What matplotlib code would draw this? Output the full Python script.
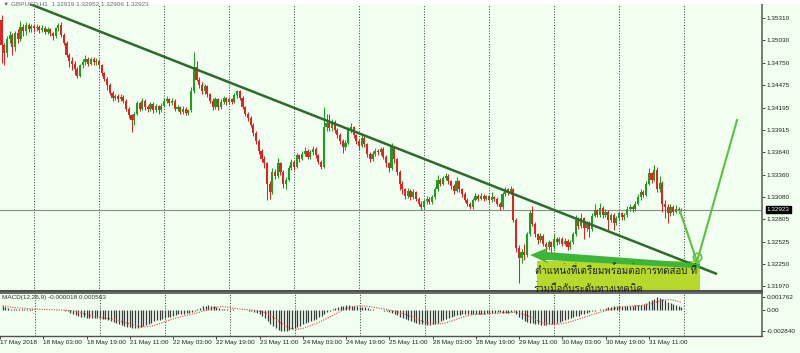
import matplotlib
matplotlib.use("Agg")
import matplotlib.pyplot as plt
import numpy as np
import pandas as pd
from matplotlib import font_manager
from matplotlib.ft2font import FT2Font
from matplotlib.patches import Rectangle, Polygon

# ---------------- data (prices in pips above 1.3000) ----------------
open_pips = [
    529, 497, 488, 505, 510, 495, 512, 505, 520, 515,
    522, 517, 521, 518, 520, 516, 519, 514, 517, 512,
    508, 518, 522, 510, 500, 485, 478, 474, 468, 459,
    472, 476, 480, 474, 480, 476, 478, 472, 462, 455,
    448, 438, 431, 434, 430, 433, 428, 418, 410, 404,
    412, 425, 418, 428, 420, 418, 424, 417, 421, 416,
    422, 428, 430, 425, 428, 418, 420, 414, 418, 413,
    416, 440, 470, 454, 448, 440, 446, 436, 428, 420,
    430, 420, 427, 431, 426, 430, 427, 435, 440, 432,
    420, 412, 406, 398, 388, 378, 366, 356, 350, 325,
    315, 340, 335, 350, 340, 325, 330, 345, 352, 346,
    360, 356, 362, 366, 358, 364, 368, 360, 352, 346,
    395, 400, 394, 402, 392, 385, 378, 370, 376, 392,
    395, 385, 378, 372, 382, 374, 362, 356, 362, 366,
    364, 368, 358, 350, 344, 370, 355, 340, 325, 318,
    310, 316, 308, 314, 306, 300, 296, 303, 306, 302,
    308, 318, 330, 325, 332, 335, 328, 322, 316, 328,
    318, 312, 305, 300, 296, 305, 310, 306, 310, 306,
    309, 304, 308, 306, 300, 296, 312, 318, 314, 318,
    280, 245, 232, 240, 236, 262, 288, 275, 262, 255,
    260, 250, 246, 252, 246, 256, 252, 256, 250, 254,
    246, 252, 262, 280, 272, 282, 270, 276, 268, 285,
    292, 286, 295, 286, 290, 280, 286, 276, 282, 288,
    283, 286, 294, 296, 293, 300, 308, 314, 311, 325,
    338, 330, 342, 318, 326, 300, 296, 288, 296, 290,
    294, 291.9,
]
high_pips = [
    535, 500, 508, 515, 512, 515, 517, 527, 524, 526,
    525, 524, 523, 523, 522, 522, 521, 520, 519, 514,
    520, 525, 526, 512, 502, 488, 482, 477, 470, 474,
    480, 485, 482, 483, 482, 481, 480, 474, 464, 458,
    450, 440, 437, 436, 436, 435, 430, 420, 412, 414,
    428, 427, 432, 430, 423, 426, 426, 424, 423, 425,
    431, 434, 432, 431, 430, 423, 422, 421, 420, 418,
    445, 489, 478, 457, 451, 449, 448, 438, 431, 433,
    432, 430, 434, 433, 433, 432, 438, 442, 441, 434,
    422, 414, 409, 400, 390, 380, 368, 359, 352, 328,
    345, 343, 357, 352, 342, 333, 348, 356, 354, 363,
    362, 366, 371, 368, 367, 372, 370, 362, 354, 420,
    412, 412, 405, 404, 394, 388, 380, 379, 395, 400,
    397, 387, 380, 386, 384, 376, 364, 365, 369, 368,
    371, 370, 360, 352, 375, 372, 357, 342, 328, 320,
    319, 318, 318, 316, 308, 303, 306, 309, 308, 311,
    321, 336, 332, 335, 338, 337, 330, 324, 333, 330,
    320, 314, 307, 302, 307, 313, 312, 313, 312, 311,
    311, 314, 310, 308, 302, 314, 321, 320, 322, 320,
    282, 248, 244, 250, 265, 292, 297, 277, 264, 263,
    262, 252, 255, 254, 262, 258, 259, 258, 257, 256,
    255, 265, 286, 283, 289, 284, 279, 278, 288, 300,
    294, 301, 297, 293, 292, 289, 288, 285, 291, 290,
    289, 297, 300, 298, 303, 312, 318, 317, 328, 345,
    340, 348, 346, 334, 328, 305, 299, 300, 298, 298,
    296, 295.2,
]
low_pips = [
    475, 473, 482, 500, 485, 490, 500, 502, 508, 510,
    513, 514, 514, 515, 512, 513, 511, 511, 509, 504,
    506, 515, 507, 497, 482, 470, 466, 460, 456, 457,
    469, 473, 471, 472, 473, 473, 469, 459, 452, 441,
    435, 428, 429, 427, 428, 425, 415, 406, 389, 398,
    410, 415, 416, 417, 414, 415, 413, 414, 412, 414,
    420, 425, 422, 423, 415, 415, 411, 412, 410, 410,
    414, 438, 452, 444, 436, 437, 433, 425, 416, 418,
    416, 418, 424, 423, 424, 424, 425, 432, 429, 418,
    409, 403, 395, 384, 374, 362, 352, 345, 305, 306,
    312, 331, 332, 336, 320, 318, 328, 342, 342, 344,
    352, 354, 359, 355, 355, 361, 357, 349, 343, 344,
    390, 390, 390, 388, 382, 374, 363, 367, 374, 388,
    382, 374, 367, 370, 371, 358, 352, 353, 359, 360,
    361, 355, 346, 340, 342, 350, 336, 317, 312, 306,
    307, 305, 306, 303, 297, 292, 294, 300, 299, 300,
    306, 316, 322, 323, 329, 325, 318, 312, 314, 315,
    308, 302, 297, 293, 294, 303, 303, 304, 303, 304,
    301, 302, 303, 297, 292, 294, 310, 311, 312, 277,
    240, 201, 226, 230, 234, 260, 272, 258, 250, 252,
    247, 240, 243, 239, 244, 249, 250, 247, 248, 242,
    244, 250, 260, 268, 270, 256, 266, 258, 266, 283,
    283, 284, 282, 283, 267, 277, 267, 273, 280, 280,
    280, 284, 291, 290, 291, 298, 305, 308, 309, 323,
    326, 328, 315, 314, 290, 282, 276, 285, 286, 288,
    289, 290.6,
]
close_pips = [
    497, 488, 505, 510, 495, 512, 505, 520, 515, 522,
    517, 521, 518, 520, 516, 519, 514, 517, 512, 508,
    518, 522, 510, 500, 485, 478, 474, 468, 459, 472,
    476, 480, 474, 480, 476, 478, 472, 462, 455, 448,
    438, 431, 434, 430, 433, 428, 418, 410, 404, 412,
    425, 418, 428, 420, 418, 424, 417, 421, 416, 422,
    428, 430, 425, 428, 418, 420, 414, 418, 413, 416,
    440, 470, 454, 448, 440, 446, 436, 428, 420, 430,
    420, 427, 431, 426, 430, 427, 435, 440, 432, 420,
    412, 406, 398, 388, 378, 366, 356, 350, 325, 315,
    340, 335, 350, 340, 325, 330, 345, 352, 346, 360,
    356, 362, 366, 358, 364, 368, 360, 352, 346, 395,
    400, 394, 402, 392, 385, 378, 370, 376, 392, 395,
    385, 378, 372, 382, 374, 362, 356, 362, 366, 364,
    368, 358, 350, 344, 370, 355, 340, 325, 318, 310,
    316, 308, 314, 306, 300, 296, 303, 306, 302, 308,
    318, 330, 325, 332, 335, 328, 322, 316, 328, 318,
    312, 305, 300, 296, 305, 310, 306, 310, 306, 309,
    304, 308, 306, 300, 296, 312, 318, 314, 318, 280,
    245, 232, 240, 236, 262, 288, 275, 262, 255, 260,
    250, 246, 252, 246, 256, 252, 256, 250, 254, 246,
    252, 262, 280, 272, 282, 270, 276, 268, 285, 292,
    286, 295, 286, 290, 280, 286, 276, 282, 288, 283,
    286, 294, 296, 293, 300, 308, 314, 311, 325, 338,
    330, 342, 318, 326, 300, 296, 288, 296, 290, 294,
    291.9, 292.3,
]
# MACD main line (units of 1e-5)
macd_e5 = [
    60, 45, 25, 20, 18, 15, 15, 12, 12, 10,
    10, 8, 5, 5, 3, 3, 2, 2, 0, 0,
    -2, -3, -5, -10, -20, -35, -50, -65, -80, -95,
    -100, -105, -108, -110, -110, -112, -115, -118, -125, -135,
    -150, -165, -180, -195, -205, -215, -225, -235, -245, -245,
    -240, -230, -215, -200, -185, -170, -155, -140, -130, -120,
    -110, -100, -90, -80, -70, -60, -55, -50, -45, -40,
    -30, -15, 10, 30, 50, 60, 65, 60, 50, 40,
    30, 20, 15, 10, 10, 8, 5, 5, 5, 0,
    -5, -10, -15, -25, -40, -55, -75, -110, -150, -190,
    -220, -245, -265, -278, -284, -280, -270, -255, -240, -225,
    -210, -195, -180, -165, -150, -135, -120, -100, -80, -50,
    -30, -10, 10, 30, 45, 55, 60, 65, 65, 60,
    55, 50, 45, 40, 35, 30, 20, 10, 5, 0,
    -5, -10, -20, -30, -45, -55, -70, -90, -110, -125,
    -140, -155, -165, -175, -185, -190, -195, -200, -200, -195,
    -185, -170, -150, -130, -120, -105, -90, -80, -70, -65,
    -60, -55, -50, -50, -55, -60, -60, -55, -50, -45,
    -40, -35, -35, -30, -30, -35, -40, -35, -25, -20,
    -50, -90, -125, -150, -165, -175, -180, -190, -195, -200,
    -200, -198, -195, -190, -185, -175, -165, -150, -135, -120,
    -105, -95, -85, -75, -60, -50, -40, -30, -20, -10,
    -5, 10, 20, 30, 40, 45, 50, 50, 55, 55,
    55, 60, 60, 60, 65, 65, 70, 85, 100, 120,
    140, 155, 176, 165, 150, 130, 110, 95, 80, 65,
    50, 40,
]

price_levels = [1.35310, 1.35030, 1.34750, 1.34475, 1.34195, 1.33915, 1.33640,
                1.33360, 1.33080, 1.32805, 1.32525, 1.32250, 1.31970]
macd_levels = [0.001762, 0.0, -0.002840]
macd_level_labels = ["0.001762", "0.00", "-0.002840"]
date_labels = ["17 May 2018", "18 May 03:00", "18 May 19:00", "21 May 11:00",
               "22 May 03:00", "22 May 19:00", "23 May 11:00", "24 May 03:00",
               "24 May 19:00", "25 May 11:00", "28 May 03:00", "28 May 19:00",
               "29 May 11:00", "30 May 03:00", "30 May 19:00", "31 May 11:00"]
last_price = 1.32923
title_text = "\u25bc GBPUSD,H1  1.32919 1.32952 1.32906 1.32923"
macd_text = "MACD(12,26,9) -0.000018 0.000563"
note_line1 = "ตำแหน่งที่เตรียมพร้อมต่อการทดสอบ ที่"
note_line2 = "ร่วมมือกับระดับทางเทคนิค"

# ---------------- derived ----------------
o = 1.3 + np.array(open_pips) / 1e4
h = 1.3 + np.array(high_pips) / 1e4
l = 1.3 + np.array(low_pips) / 1e4
c = 1.3 + np.array(close_pips) / 1e4
n = len(c)
x = np.arange(n)

macd = np.array(macd_e5) / 1e5
# MT4 signal line: 9-period simple average of the MACD main line
signal = pd.Series(macd).rolling(9, min_periods=1).mean().values


def thai_family():
    seen = set()
    for fe in font_manager.fontManager.ttflist:
        if fe.fname in seen:
            continue
        seen.add(fe.fname)
        try:
            cm = FT2Font(fe.fname).get_charmap()
        except Exception:
            continue
        if 0x0E01 in cm and 0x0E33 in cm and 0x0E48 in cm:
            return fe.name
    return None


thai = thai_family()
thai_fam = [thai, "DejaVu Sans"] if thai else ["DejaVu Sans"]
small_fam = ["Liberation Sans", "DejaVu Sans"]

BG = "#F0FFF0"
UP = "#1E9E1E"
DN = "#E02424"
FS = 4.6

fig = plt.figure(figsize=(8, 3.53), dpi=100, facecolor=BG)
# white strip at the very top (window caption area)
fig.patches.append(Rectangle((0, 1 - 4 / 353), 1, 4 / 353, transform=fig.transFigure,
                             facecolor="white", edgecolor="none", zorder=0))
ax = fig.add_axes([0, 1 - 291 / 353, 762 / 800, 287 / 353], facecolor=BG)
ax2 = fig.add_axes([0, 1 - 336 / 353, 762 / 800, 43 / 353], facecolor=BG)

xlim = (-0.554, 280.8)
ax.set_xlim(*xlim)
ax2.set_xlim(*xlim)
ax.set_ylim(1.31914, 1.35484)
ax2.set_ylim(-0.00352, 0.00230)

grid_pos = list(range(12, 260, 24))
for a in (ax, ax2):
    for g in grid_pos:
        a.axvline(g, color="#4A4A4A", lw=0.75, ls=(0, (1, 1.6)), zorder=0.5)

# note rectangle
ax.add_patch(Rectangle((197.7, 1.3170), 60.2, 1.32287 - 1.3170,
                       facecolor="#B6D92B", edgecolor="none", zorder=1))

# current price line
ax.axhline(last_price, color="#8C8C8C", lw=0.8, zorder=1.5)

# candles
up = c >= o
col = np.where(up, UP, DN)
ax.vlines(x, l, h, colors=col, lw=0.75, zorder=2)
body = np.where(np.abs(c - o) < 0.00004, 0.00004, c - o)
ax.bar(x, body, bottom=o, width=0.78, color=col, linewidth=0, zorder=2.1)

# trend line
ax.plot([10.5, 264.2], [1.35484, 1.32125], color="#2E6A2E", lw=1.8,
        solid_capstyle="butt", zorder=3)

# projected path
ax.plot([250.5, 256.8, 271.6], [1.3291, 1.3228, 1.3404], color="#5EC043",
        lw=1.5, zorder=3.2)
ax.plot([256.8], [1.3234], marker="o", ms=6, mfc="none", mec="#5EC043",
        mew=1.2, zorder=3.3)

# arrow
arrow = [(195.2, 1.32362), (202.0, 1.32455), (200.8, 1.32400), (257.9, 1.32255),
         (257.9, 1.32195), (200.8, 1.32300), (202.0, 1.32255)]
ax.add_patch(Polygon(arrow, closed=True, facecolor="#3DB53A", edgecolor="none",
                     zorder=4))

ax.text(197.0, 1.32175, note_line1, family=thai_fam, fontsize=7.0,
        color="#1E1E1E", va="center", ha="left", zorder=5)
ax.text(196.3, 1.31950, note_line2, family=thai_fam, fontsize=7.0,
        color="#1E1E1E", va="center", ha="left", zorder=6, clip_on=False)

# price axis
for a in (ax, ax2):
    a.yaxis.tick_right()
    for sp in ("left", "top"):
        a.spines[sp].set_visible(False)
    a.spines["right"].set_color("#7A7A7A")
    a.spines["right"].set_linewidth(1.4)
ax.spines["bottom"].set_color("#505050")
ax.spines["bottom"].set_linewidth(1.5)
ax2.spines["bottom"].set_color("#505050")
ax2.spines["bottom"].set_linewidth(1.0)
ax2.spines["top"].set_visible(True)
ax2.spines["top"].set_color("#505050")
ax2.spines["top"].set_linewidth(1.2)

ax.set_yticks(price_levels)
ax.set_yticklabels([f"{v:.5f}" for v in price_levels])
ax.tick_params(axis="y", direction="out", length=2, width=0.6, pad=1.5,
               labelsize=FS, colors="#222222")
for t in ax.get_yticklabels():
    t.set_family(small_fam)
ax.set_xticks([])

ax2.set_yticks(macd_levels)
ax2.set_yticklabels(macd_level_labels)
ax2.tick_params(axis="y", direction="out", length=2, width=0.6, pad=1.5,
                labelsize=FS, colors="#222222")
for t in ax2.get_yticklabels():
    t.set_family(small_fam)

date_pos = list(range(-1, 16 * len(date_labels) - 1, 16))
ax2.set_xticks(date_pos)
ax2.set_xticklabels(date_labels, ha="left")
ax2.tick_params(axis="x", direction="out", length=2, width=0.6, pad=1.2,
                labelsize=FS, colors="#222222")
for t in ax2.get_xticklabels():
    t.set_family(small_fam)

# last price tag
ax.annotate(f"{last_price:.5f}", xy=(1.0, last_price),
            xycoords=("axes fraction", "data"), xytext=(3.5, 0),
            textcoords="offset points", va="center", ha="left", fontsize=FS,
            family=small_fam, color="white", zorder=10, annotation_clip=False,
            bbox=dict(boxstyle="square,pad=0.15", fc="black", ec="black"))

# MACD
ax2.vlines(x, 0, macd, colors="#3A3A3A", lw=0.9, zorder=2)
ax2.plot(x, signal, color="#E04040", lw=0.8, ls=(0, (1, 1.2)), zorder=3)

fig.text(2 / 800, 1 - 298 / 353, macd_text, fontsize=FS, family=small_fam,
         color="#333333", va="center", ha="left")
fig.text(3 / 800, 1 - 4 / 353, title_text, fontsize=FS, family=small_fam,
         color="#6E6E6E", va="center", ha="left", zorder=5)

fig.savefig("out.png", dpi=100, facecolor=BG)
